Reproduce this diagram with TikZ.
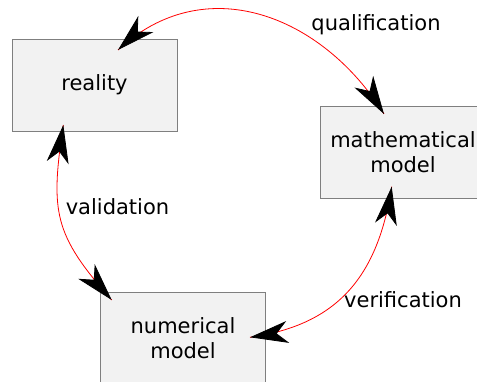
\documentclass[tikz,border=0pt]{standalone}
\usepackage{fontspec}
\setmainfont{DejaVu Sans}
\usepackage{tikz}
\usetikzlibrary{arrows.meta,decorations.markings}
\definecolor{boxfill}{HTML}{F2F2F2}
\definecolor{boxline}{HTML}{7F7F7F}
\tikzset{
  blk/.style={draw=boxline, line width=.7pt, fill=boxfill, align=center, minimum width=165pt, minimum height=92pt, inner sep=0pt, font=\fontsize{21}{25}\selectfont},
  bigtip/.tip={Stealth[length=38pt, width=22pt, inset=11pt, color=black]},
  ar/.style={line width=.8pt, draw=red, postaction={decorate},
    decoration={markings,
      mark=at position 0 with {\arrowreversed{bigtip}},
      mark=at position 0.9999 with {\arrow{bigtip}}}},
  lbl/.style={font=\fontsize{21}{25}\selectfont, inner sep=0pt},
}
\begin{document}
\begin{tikzpicture}[x=1pt, y=1pt]
  \clip (0,0) rectangle (477,382);
  % boxes
  \node[blk] (real) at (94.5,297) {reality};
  \node[blk] (math) at (403,230) {mathematical\\model};
  \node[blk] (num) at (183,44) {numerical\\model};
  % arrow ends
  \coordinate (q1) at (118,332);
  \coordinate (q2) at (384,268);
  \coordinate (v1) at (63.3,257);
  \coordinate (v2) at (111.7,82);
  \coordinate (f1) at (391.7,195.3);
  \coordinate (f2) at (250,44.7);
  \draw[ar] (q1) to[out=43, in=122, looseness=1.1] (q2);
  \draw[ar] (v1) to[out=261.5, in=131.5, looseness=1.24] (v2);
  \draw[ar] (f1) to[out=261.2, in=8, looseness=1.11] (f2);
  % labels
  \node[lbl] (qual) at (376,357) {qualification};
  \node[lbl] (valid) at (117.5,175) {validation};
  \node[lbl] (verif) at (403,82) {verification};
\end{tikzpicture}
\end{document}
